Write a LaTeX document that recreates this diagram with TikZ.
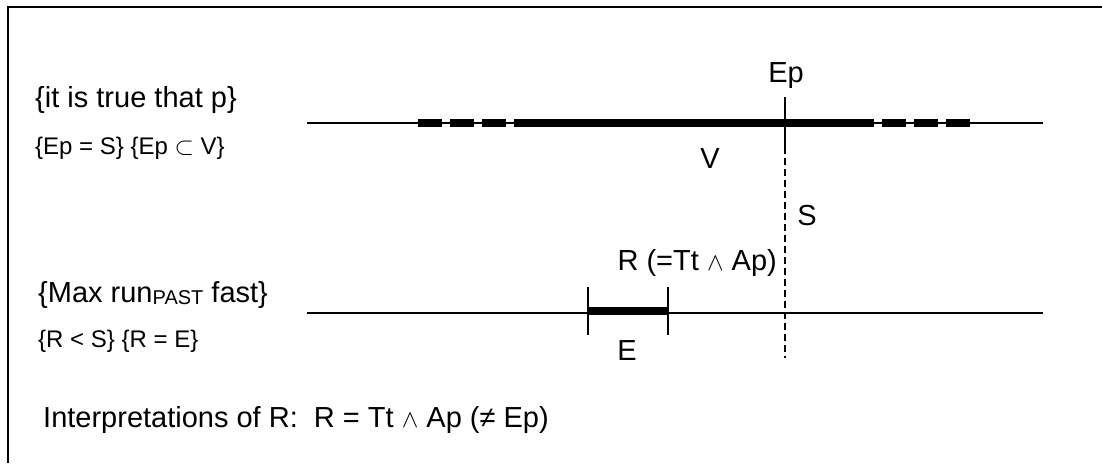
\documentclass[tikz,border=0pt]{standalone}
\usepackage{fontspec}
\setmainfont{Liberation Sans}
\usetikzlibrary{positioning}

\tikzset{
  bigtext/.style={font=\fontsize{29}{34}\selectfont, inner sep=0pt},
  smalltext/.style={font=\fontsize{24}{28}\selectfont, inner sep=0pt},
  frameline/.style={line width=2.3pt},
  timeline/.style={line width=2pt},
  interval/.style={line width=7.5pt},
  vague/.style={line width=7.5pt, dash pattern=on 24pt off 8pt},
  marker/.style={line width=2.5pt},
  nowline/.style={line width=2pt, dash pattern=on 7pt off 4pt},
}
\newcommand{\pastsub}{\raisebox{-2pt}{\fontsize{20}{22}\selectfont PAST}}

\begin{document}
\begin{tikzpicture}[x=1pt, y=-1pt]
  \useasboundingbox (0,0) rectangle (1102,463);

  % Frame
  \coordinate (frameTR) at (1102,7);
  \coordinate (frameTL) at (8,7);
  \coordinate (frameBL) at (8,463);
  \draw[frameline] (frameTR) -- (frameTL) -- (frameBL);

  % Upper time line
  \coordinate (upL) at (307,123);
  \coordinate (upR) at (1043,123);
  \coordinate (vA) at (418,123);
  \coordinate (vB) at (537,123);
  \coordinate (vC) at (863,123);
  \coordinate (vD) at (850,123);
  \coordinate (vE) at (970,123);
  \draw[timeline] (upL) -- (upR);
  \draw[vague] (vA) -- (vB);
  \draw[interval] (vB) -- (vC);
  \draw[vague] (vD) -- (vE);

  % Ep / S marker
  \coordinate (epTop) at (785,97);
  \coordinate (epBot) at (785,147);
  \coordinate (sBot) at (785,358);
  \draw[marker] (epTop) -- (epBot);
  \draw[nowline] (epBot) -- (sBot);

  % Lower time line
  \coordinate (lowL) at (307,313);
  \coordinate (lowR) at (1043,313);
  \coordinate (eL) at (588,311);
  \coordinate (eR) at (668,311);
  \coordinate (eLtop) at (588,287);
  \coordinate (eLbot) at (588,335);
  \coordinate (eRtop) at (668,287);
  \coordinate (eRbot) at (668,335);
  \draw[timeline] (lowL) -- (lowR);
  \draw[interval] (eL) -- (eR);
  \draw[marker] (eLtop) -- (eLbot);
  \draw[marker] (eRtop) -- (eRbot);

  % Labels
  \node[bigtext, anchor=base west] (truth) at (35,107) {\{it is true that p\}};
  \node[smalltext, anchor=base west] (truthrel) at (35,154) {\{Ep = S\} \{Ep $\subset$ V\}};
  \node[bigtext, anchor=base west] (max) at (38,302) {\{Max run\pastsub{} fast\}};
  \node[smalltext, anchor=base west] (maxrel) at (38,347) {\{R < S\} \{R = E\}};
  \node[bigtext, anchor=base west] (interp) at (43,427) {Interpretations of R:\ \ R = Tt $\wedge$ Ap (≠ Ep)};

  \node[bigtext, anchor=base] (ep) at (786,82) {Ep};
  \node[bigtext, anchor=base] (v) at (710,168) {V};
  \node[bigtext, anchor=base] (s) at (807,225) {S};
  \node[bigtext, anchor=base east] (r) at (777,270) {R (=Tt $\wedge$ Ap)};
  \node[bigtext, anchor=base] (e) at (627,360) {E};
\end{tikzpicture}
\end{document}
